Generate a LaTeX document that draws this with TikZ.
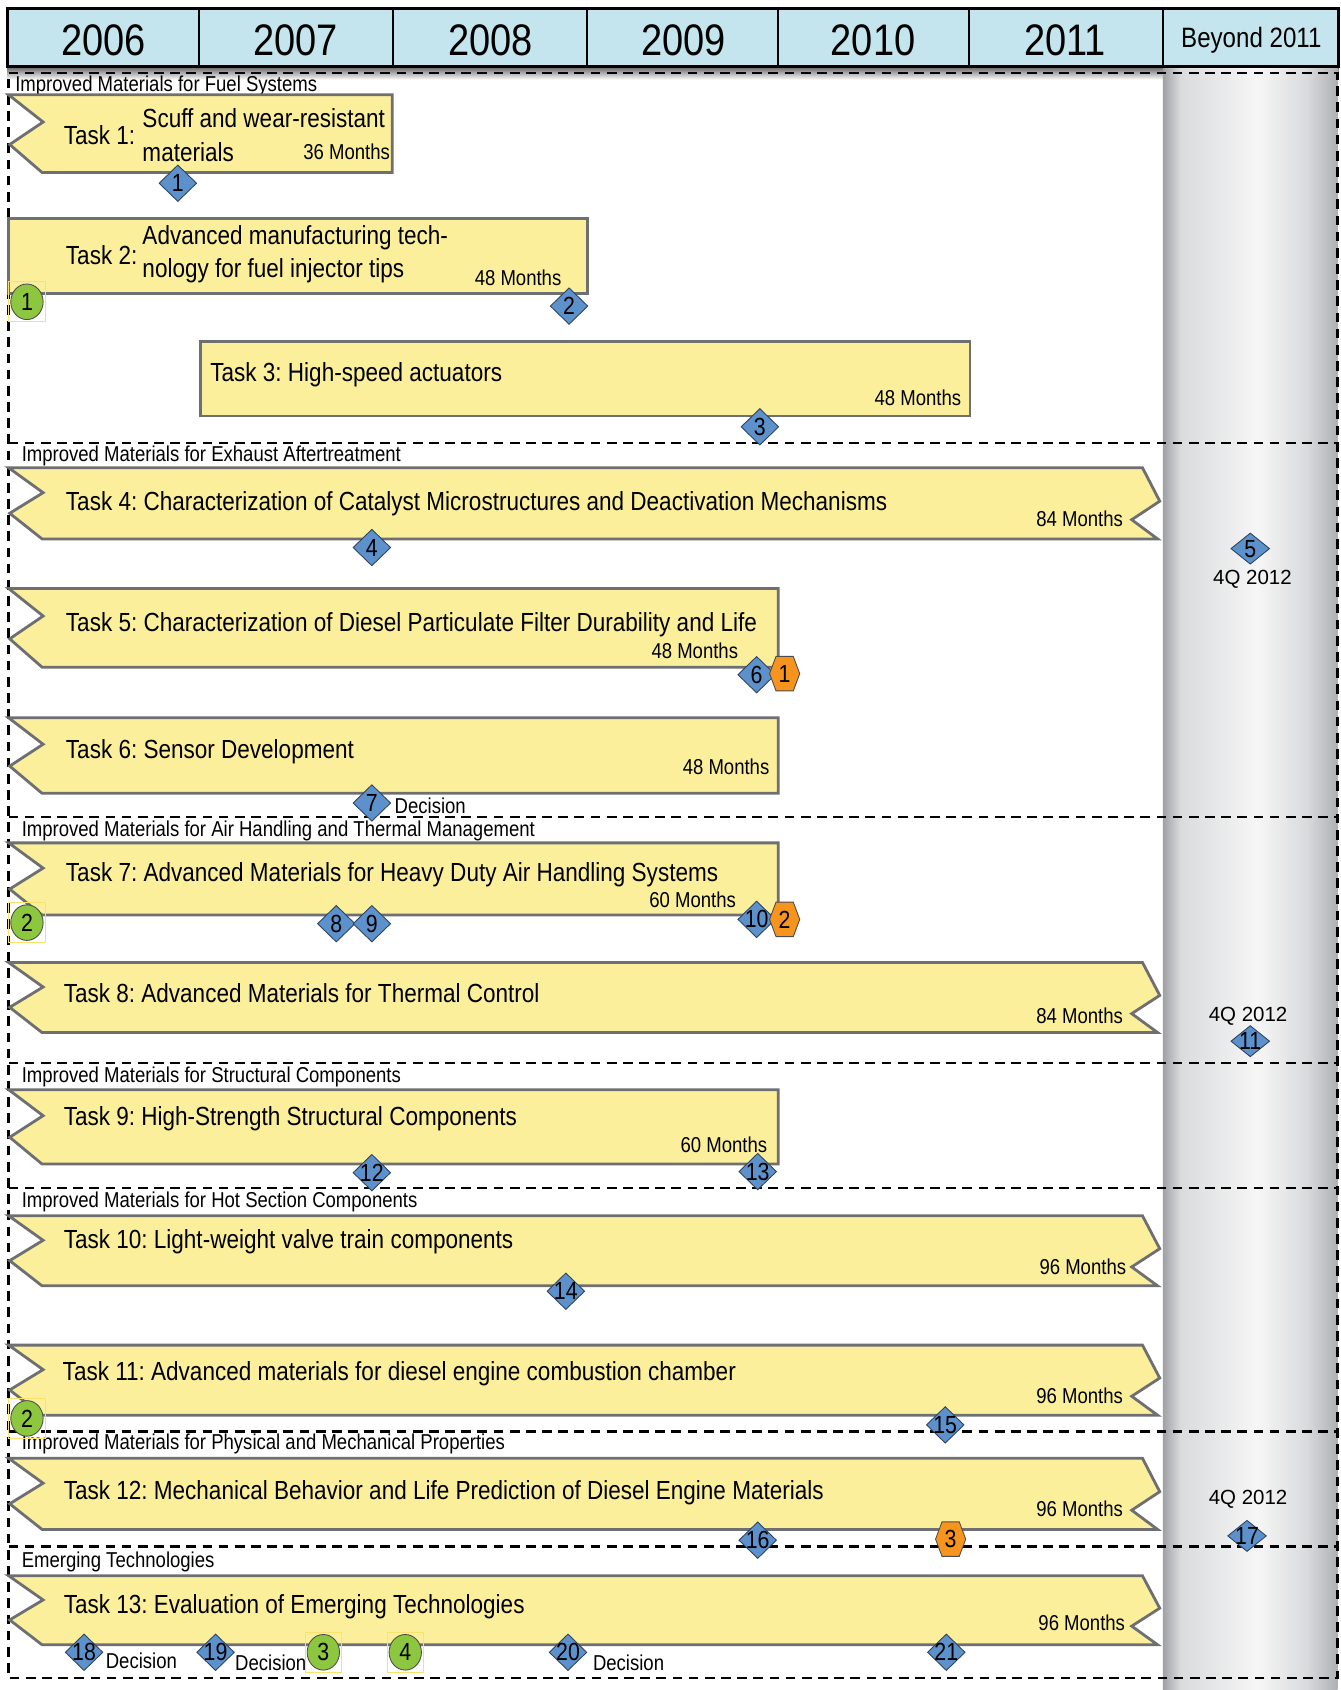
\documentclass[tikz,border=0pt]{standalone}
\usepackage{fontspec}
\setmainfont{Liberation Sans}
\newfontfamily\cf[FakeStretch=0.86]{Liberation Sans}
\usetikzlibrary{shapes.geometric}
\frenchspacing
\definecolor{hdr}{RGB}{197,229,238}
\definecolor{taskfill}{RGB}{251,239,155}
\definecolor{taskline}{RGB}{110,111,114}
\definecolor{msfill}{RGB}{92,145,203}
\definecolor{msline}{RGB}{45,65,95}
\definecolor{hexfill}{RGB}{247,148,29}
\definecolor{grnfill}{RGB}{141,198,63}
\definecolor{ybox}{RGB}{250,226,110}
\definecolor{cA}{RGB}{160,161,165}
\definecolor{cB}{RGB}{218,219,221}
\definecolor{cC}{RGB}{246,246,246}
\definecolor{cD}{RGB}{175,176,179}
\pgfdeclarehorizontalshading{colshade}{100bp}{color(0bp)=(cA); color(25bp)=(cA); color(30bp)=(cB); color(52bp)=(cC); color(66bp)=(cB); color(75bp)=(cD); color(100bp)=(cD)}
\newcommand\dmark[4][dia]{\node[#1] (#2) at #3 {}; \node[num] (#2t) at #3 {#4};}
\newcommand\hexm[3]{\path[hexs,shift={#2}] (-14,0) -- (-8,-16) -- (8,-16) -- (14,0) -- (8,16) -- (-8,16) -- cycle; \node[num] (#1) at #2 {#3};}
\newcommand\gmark[3]{\node[ysq] (#1s) at #2 {}; \node[grn] (#1) at #2 {#3};}
% left-notched task, flat right: top, bottom, right x
\newcommand\taskLF[3]{\path[task] (8,#1) -- (#3,#1) -- (#3,#2) -- (39,#2) -- (9,{#1+0.64*(#2-#1)}) -- (40,{#1+0.35*(#2-#1)}) -- cycle;}
% left-notched task, arrow right end
\newcommand\taskLA[2]{\path[task] (8,#1) -- (1060,#1) -- (1076,{#1+0.47*(#2-#1)}) -- (1050,{#1+0.73*(#2-#1)}) -- (1074,#2) -- (39,#2) -- (9,{#1+0.64*(#2-#1)}) -- (40,{#1+0.35*(#2-#1)}) -- cycle;}
\begin{document}
\begin{tikzpicture}[x=1pt,y=-1pt,
  task/.style={draw=taskline, fill=taskfill, line width=2.6pt, line join=miter},
  tt/.style={anchor=west, inner sep=0pt, font=\cf\fontsize{24.3}{26}\selectfont},
  mo/.style={anchor=east, inner sep=0pt, font=\cf\fontsize{20}{22}\selectfont},
  sec/.style={anchor=west, inner sep=0pt, font=\cf\fontsize{20}{22}\selectfont},
  dec/.style={anchor=west, inner sep=0pt, font=\cf\fontsize{20}{22}\selectfont},
  qtr/.style={inner sep=0pt, font=\fontsize{19}{21}\selectfont},
  yr/.style={inner sep=0pt, font=\cf\fontsize{41}{44}\selectfont},
  sep/.style={dash pattern=on 9pt off 6pt, line width=2.2pt},
  dia/.style={diamond, draw=msline, fill=msfill, line width=0.8pt, minimum width=35pt, minimum height=34pt, inner sep=0pt},
  diaw/.style={dia, minimum width=36pt, minimum height=29pt},
  num/.style={inner sep=0pt, font=\cf\fontsize{23}{24}\selectfont},
  hexs/.style={draw=black!70, fill=hexfill, line width=0.8pt},
  ysq/.style={draw=ybox, line width=0.8pt, minimum width=34pt, minimum height=37pt, inner sep=0pt},
  grn/.style={ellipse, draw=black!70, fill=grnfill, line width=0.8pt, minimum width=30pt, minimum height=33pt, inner sep=0pt, font=\cf\fontsize{23}{24}\selectfont}]
\useasboundingbox (0,0) rectangle (1244,1568);
\fill[white] (0,0) rectangle (1244,1568);
% header shadow
\shade[top color=black!60, bottom color=white] (7,62) rectangle (1242,74);
% beyond column
\shade[shading=colshade] (1079,64) rectangle (1241,1568);
% header
\draw[line width=2.6pt, fill=hdr] (7,8) rectangle (1242,62);
\foreach \x in {185,365,545,722,899,1079} \draw[line width=1.8pt] (\x,8) -- (\x,62);
\node[yr] (y2006) at (96,37) {2006};
\node[yr] (y2007) at (274,37) {2007};
\node[yr] (y2008) at (455,37) {2008};
\node[yr] (y2009) at (634,37) {2009};
\node[yr] (y2010) at (810,37) {2010};
\node[yr] (y2011) at (988,37) {2011};
\node[yr, font=\cf\fontsize{26}{28}\selectfont] (yb) at (1161,37) {Beyond 2011};
% frame and separators
\draw[sep] (8,68) -- (1241,68) -- (1241,1557) -- (8,1557) -- cycle;
\foreach \y in {411,758,986,1102,1328,1435} \draw[sep] (8,\y) -- (1241,\y);
% section labels
\node[sec] (s1) at (14,80) {Improved Materials for Fuel Systems};
\node[sec] (s2) at (20,423) {Improved Materials for Exhaust Aftertreatment};
\node[sec] (s3) at (20,771) {Improved Materials for Air Handling and Thermal Management};
\node[sec] (s4) at (20,999) {Improved Materials for Structural Components};
\node[sec] (s5) at (20,1115) {Improved Materials for Hot Section Components};
\node[sec] (s6) at (20,1340) {Improved Materials for Physical and Mechanical Properties};
\node[sec] (s7) at (20,1449) {Emerging Technologies};
% tasks
\taskLF{88}{160}{364}
\path[task] (8,203) rectangle (545,272);
\path[task] (186,317) rectangle (900,386);
\taskLA{434}{500}
\taskLF{546}{619}{722}
\taskLF{666}{736}{722}
\taskLF{782}{849}{722}
\taskLA{893}{958}
\taskLF{1011}{1080}{722}
\taskLA{1128}{1193}
\taskLA{1248}{1313}
\taskLA{1353}{1419}
\taskLA{1462}{1526}
% task texts
\node[tt] (t1a) at (59,125) {Task 1:};
\node[tt] (t1b) at (132,110) {Scuff and wear-resistant};
\node[tt] (t1c) at (132,141) {materials};
\node[mo] (t1m) at (362,141) {36 Months};
\node[tt] (t2a) at (61,237) {Task 2:};
\node[tt] (t2b) at (132,221) {Advanced manufacturing tech-};
\node[tt] (t2c) at (132,251) {nology for fuel injector tips};
\node[mo] (t2m) at (521,258) {48 Months};
\node[tt] (t3) at (195,348) {Task 3: High-speed actuators};
\node[mo] (t3m) at (892,369) {48 Months};
\node[tt] (t4) at (61,467) {Task 4: Characterization of Catalyst Microstructures and Deactivation Mechanisms};
\node[mo] (t4m) at (1042,481) {84 Months};
\node[tt] (t5) at (61,580) {Task 5: Characterization of Diesel Particulate Filter Durability and Life};
\node[mo] (t5m) at (685,604) {48 Months};
\node[tt] (t6) at (61,697) {Task 6: Sensor Development};
\node[mo] (t6m) at (714,711) {48 Months};
\node[tt] (t7) at (61,812) {Task 7: Advanced Materials for Heavy Duty Air Handling Systems};
\node[mo] (t7m) at (683,835) {60 Months};
\node[tt] (t8) at (59,921) {Task 8: Advanced Materials for Thermal Control};
\node[mo] (t8m) at (1042,942) {84 Months};
\node[tt] (t9) at (59,1038) {Task 9: High-Strength Structural Components};
\node[mo] (t9m) at (712,1062) {60 Months};
\node[tt] (t10) at (59,1152) {Task 10: Light-weight valve train components};
\node[mo] (t10m) at (1045,1175) {96 Months};
\node[tt] (t11) at (58,1275) {Task 11: Advanced materials for diesel engine combustion chamber};
\node[mo] (t11m) at (1042,1295) {96 Months};
\node[tt] (t12) at (59,1385) {Task 12: Mechanical Behavior and Life Prediction of Diesel Engine Materials};
\node[mo] (t12m) at (1042,1400) {96 Months};
\node[tt] (t13) at (59,1491) {Task 13: Evaluation of Emerging Technologies};
\node[mo] (t13m) at (1044,1506) {96 Months};
% quarter labels
\node[qtr] (q5) at (1162,537) {4Q 2012};
\node[qtr] (q11) at (1158,943) {4Q 2012};
\node[qtr] (q17) at (1158,1391) {4Q 2012};
% decision labels
\node[dec] (d7) at (366,748) {Decision};
\node[dec] (d18) at (98,1541) {Decision};
\node[dec] (d19) at (218,1543) {Decision};
\node[dec] (d20) at (550,1543) {Decision};
% milestones
\dmark{m1}{(165,170)}{1}
\dmark{m2}{(528,284)}{2}
\dmark{m3}{(705,396)}{3}
\dmark{m4}{(345,508)}{4}
\dmark[diaw]{m5}{(1160,509)}{5}
\dmark{m6}{(702,626)}{6}
\dmark{m7}{(345,745)}{7}
\dmark{m8}{(312,857)}{8}
\dmark{m9}{(345,857)}{9}
\dmark{m10}{(702,853)}{10}
\dmark[diaw]{m11}{(1160,966)}{11}
\dmark{m12}{(345,1088)}{12}
\dmark{m13}{(703,1087)}{13}
\dmark{m14}{(525,1198)}{14}
\dmark{m15}{(877,1322)}{15}
\dmark{m16}{(703,1429)}{16}
\dmark[diaw]{m17}{(1157,1425)}{17}
\dmark{m18}{(78,1533)}{18}
\dmark{m19}{(200,1533)}{19}
\dmark{m20}{(527,1533)}{20}
\dmark{m21}{(878,1533)}{21}
% orange hexagons
\hexm{h1}{(728,625)}{1}
\hexm{h2}{(728,853)}{2}
\hexm{h3}{(882,1428)}{3}
% green circles
\gmark{g1}{(25,280)}{1}
\gmark{g2}{(25,856)}{2}
\gmark{g2b}{(25,1316)}{2}
\gmark{g3}{(300,1533)}{3}
\gmark{g4}{(376,1533)}{4}
\end{tikzpicture}
\end{document}
